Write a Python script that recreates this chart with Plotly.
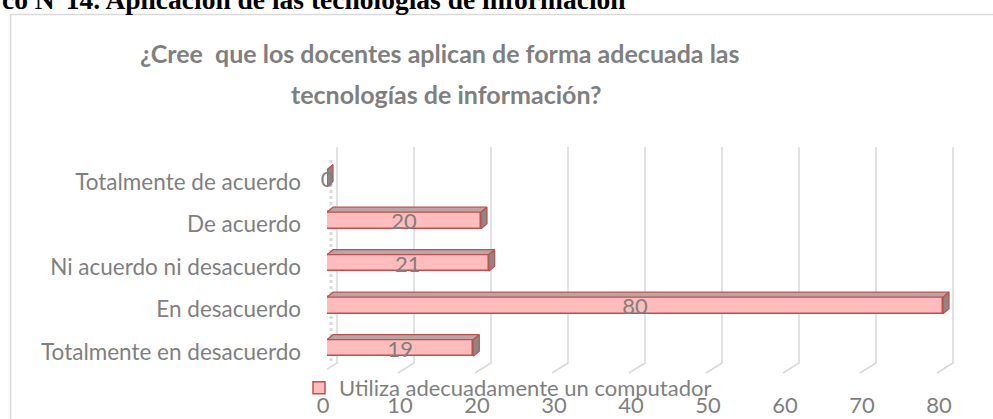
import plotly.graph_objects as go

# ---------------- data ----------------
categories = ["Totalmente en desacuerdo", "En desacuerdo", "Ni acuerdo ni desacuerdo",
              "De acuerdo", "Totalmente de acuerdo"]
values = [19, 80, 21, 20, 0]
x_ticks = [0, 10, 20, 30, 40, 50, 60, 70, 80]
series_name = "Utiliza adecuadamente un computador"
title_lines = ["¿Cree\u00a0 que los docentes aplican de forma adecuada las",
               "tecnologías de información?"]
heading = "co N°14. Aplicación de las tecnologías de información"

# ---------------- layout geometry ----------------
W, H = 993, 419
ML, MR, MT, MB = 327, 0, 144, 37
PX_PER_UNIT = 7.7
X_MAX = (W - ML - MR) / PX_PER_UNIT
Y_MIN, Y_MAX = -0.8, 4.8
PLOT_W = W - ML - MR
PLOT_H = H - MT - MB
PX_PER_CAT = PLOT_H / (Y_MAX - Y_MIN)


def paper_x(px):
    return (px - ML) / PLOT_W


def paper_y(py):
    return (H - MB - py) / PLOT_H


def data_y(py):
    return Y_MIN + (H - MB - py) / PX_PER_CAT


GRAY = "#7f7f7f"
RED = "#c0504d"
FONT = "Lato"

BAR_W = 0.39
HALF = BAR_W / 2
DX = 6 / PX_PER_UNIT
DY = 5 / PX_PER_CAT
LABEL_DROP = 3 / PX_PER_CAT

idx = list(range(len(categories)))

fig = go.Figure()

# front faces
fig.add_trace(go.Bar(
    y=idx, x=values, orientation="h", width=BAR_W, name=series_name,
    marker=dict(color="#ffbcbc", line=dict(color=RED, width=1.5)),
    showlegend=True, hoverinfo="skip",
))

# top faces (3D)
tx, ty = [], []
for i, v in zip(idx, values):
    tx += [0, v, v + DX, DX, 0, None]
    ty += [i + HALF, i + HALF, i + HALF + DY, i + HALF + DY, i + HALF, None]
fig.add_trace(go.Scatter(
    x=tx, y=ty, mode="lines", fill="toself", fillcolor="#b8a6a6",
    line=dict(color=RED, width=1.2), showlegend=False, hoverinfo="skip",
))

# side faces (3D)
sx, sy = [], []
for i, v in zip(idx, values):
    sx += [v, v + DX, v + DX, v, v, None]
    sy += [i - HALF, i - HALF + DY, i + HALF + DY, i + HALF, i - HALF, None]
fig.add_trace(go.Scatter(
    x=sx, y=sy, mode="lines", fill="toself", fillcolor="#8f8585",
    line=dict(color=RED, width=1.2), showlegend=False, hoverinfo="skip",
))

# data labels
fig.add_trace(go.Scatter(
    x=[v / 2 for v in values], y=[i - LABEL_DROP for i in idx], text=[str(v) for v in values],
    mode="text", textposition="middle center", cliponaxis=False,
    textfont=dict(family=FONT, size=22, color=GRAY),
    showlegend=False, hoverinfo="skip",
))

# 3D back-wall gridlines with floor diagonals
GX = 10 / PX_PER_UNIT
FX = 16 / PX_PER_UNIT
y_top, y_bot, y_floor = data_y(147), data_y(363), data_y(373)
shapes = []
for t in x_ticks:
    shapes.append(dict(
        type="path", xref="x", yref="y", layer="below",
        path=f"M{t + GX},{y_top} L{t + GX},{y_bot} L{t + GX - FX},{y_floor}",
        line=dict(color="#d9d9d9", width=1.5),
    ))
# soft left wall shadow
shapes.append(dict(
    type="line", xref="x", yref="y", layer="below",
    x0=4 / PX_PER_UNIT, x1=4 / PX_PER_UNIT, y0=data_y(160), y1=data_y(362),
    line=dict(color="rgba(170,170,170,0.45)", width=3, dash="dot"),
))
# chart frame
shapes.append(dict(type="line", xref="paper", yref="paper",
                   x0=paper_x(10.5), x1=paper_x(10.5), y0=paper_y(14.5), y1=paper_y(425),
                   line=dict(color="#d9d9d9", width=1.5)))
shapes.append(dict(type="line", xref="paper", yref="paper",
                   x0=paper_x(10), x1=paper_x(1000), y0=paper_y(14.5), y1=paper_y(14.5),
                   line=dict(color="#d9d9d9", width=1.5)))

annotations = [
    dict(text=heading, xref="paper", yref="paper", x=paper_x(0), y=paper_y(0),
         xanchor="left", yanchor="middle", showarrow=False,
         font=dict(family="Liberation Serif", size=27.5, color="black", weight="bold")),
    dict(text=title_lines[0], xref="paper", yref="paper", x=paper_x(440), y=paper_y(53),
         xanchor="center", yanchor="middle", showarrow=False,
         font=dict(family=FONT, size=25, color=GRAY, weight="bold")),
    dict(text=title_lines[1], xref="paper", yref="paper", x=paper_x(446), y=paper_y(94),
         xanchor="center", yanchor="middle", showarrow=False,
         font=dict(family=FONT, size=25, color=GRAY, weight="bold")),
]

fig.update_layout(
    width=W, height=H,
    margin=dict(l=ML, r=MR, t=MT, b=MB, autoexpand=False),
    paper_bgcolor="white", plot_bgcolor="white",
    shapes=shapes, annotations=annotations,
    showlegend=True,
    legend=dict(x=paper_x(299), y=paper_y(388), xanchor="left", yanchor="middle",
                orientation="h", bgcolor="rgba(0,0,0,0)",
                font=dict(family=FONT, size=22, color=GRAY)),
    xaxis=dict(range=[0, X_MAX], tickvals=x_ticks, ticktext=[str(t) for t in x_ticks],
               showgrid=False, zeroline=False, showline=False, ticks="",
               tickfont=dict(family=FONT, size=22, color=GRAY),
               ticklabelshift=-4, ticklabelstandoff=8, automargin=False),
    yaxis=dict(range=[Y_MIN, Y_MAX], tickvals=idx, ticktext=categories,
               showgrid=False, zeroline=False, showline=False, ticks="",
               tickfont=dict(family=FONT, size=22.5, color=GRAY),
               ticklabelshift=4, ticklabelstandoff=25, automargin=False),
    bargap=0,
)

fig.write_html("out.html", config={"displayModeBar": False},
               post_script="document.body.style.margin='0';document.body.style.overflow='hidden';")
